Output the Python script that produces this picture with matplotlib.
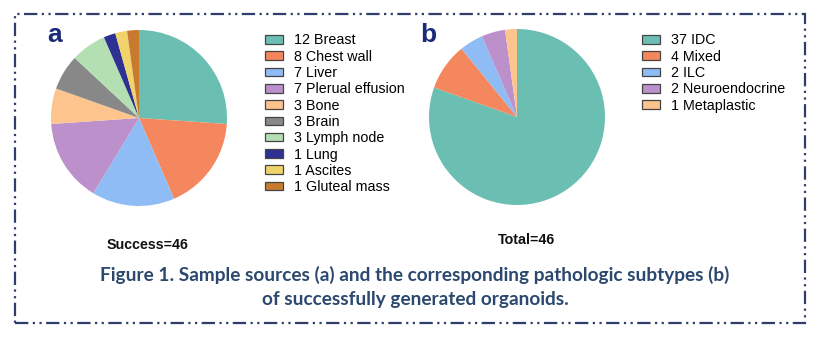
import matplotlib
matplotlib.use("Agg")
import matplotlib.pyplot as plt
from matplotlib.patches import Rectangle, Patch

# Data
src_labels = ["Breast", "Chest wall", "Liver", "Plerual effusion", "Bone", "Brain",
              "Lymph node", "Lung", "Ascites", "Gluteal mass"]
src_values = [12, 8, 7, 7, 3, 3, 3, 1, 1, 1]
src_colors = ["#6bbfb2", "#f4875d", "#8fbcf5", "#bb90cb", "#fdc48d", "#888888",
              "#b4dfb3", "#2e3192", "#f0d36a", "#c87a2e"]

sub_labels = ["IDC", "Mixed", "ILC", "Neuroendocrine", "Metaplastic"]
sub_values = [37, 4, 2, 2, 1]
sub_colors = ["#6bbfb2", "#f4875d", "#8fbcf5", "#bb90cb", "#fdc48d"]

W, H = 835, 340
fig = plt.figure(figsize=(W / 100, H / 100), dpi=100)
fig.patch.set_facecolor("white")

FONT = "Liberation Sans"


def add_pie(cx, cy, r, values, colors, labels, leg_x, leg_y):
    ax = fig.add_axes([(cx - r) / W, 1 - (cy + r) / H, 2 * r / W, 2 * r / H])
    wedges, _ = ax.pie(values, colors=colors, startangle=90, counterclock=False,
                       wedgeprops=dict(linewidth=0))
    ax.set_xlim(-1, 1)
    ax.set_ylim(-1, 1)
    ax.set_aspect("equal")
    ax.axis("off")
    handles = [Patch(facecolor=c, edgecolor="#444444", linewidth=0.9) for c in colors]
    texts = [f"{v} {l}" for v, l in zip(values, labels)]
    fig.legend(handles, texts, loc="upper left",
               bbox_to_anchor=(leg_x / W, 1 - leg_y / H),
               bbox_transform=fig.transFigure, frameon=False,
               prop=dict(family=FONT, size=10.3), handlelength=1.25,
               handleheight=0.55, handletextpad=0.8, labelspacing=0.16,
               borderaxespad=0, borderpad=0)
    return ax


add_pie(139, 118, 88, src_values, src_colors, src_labels, 265, 33.5)
add_pie(517, 117, 88, sub_values, sub_colors, sub_labels, 642, 33.5)

navy = "#1c2b78"
fig.text(47 / W, 1 - 35 / H, "a", fontsize=19, fontweight="bold", color=navy,
         family=FONT, ha="left", va="center")
fig.text(420 / W, 1 - 35 / H, "b", fontsize=19, fontweight="bold", color=navy,
         family=FONT, ha="left", va="center")

fig.text(148 / W, 1 - 245 / H, "Success=46", fontsize=10.3, fontweight="bold",
         color="#111111", family=FONT, ha="center", va="center")
fig.text(526 / W, 1 - 240 / H, "Total=46", fontsize=10.3, fontweight="bold",
         color="#111111", family=FONT, ha="center", va="center")

cap_color = "#2c486e"
fig.text(415 / W, 1 - 275 / H,
         "Figure 1. Sample sources (a) and the corresponding pathologic subtypes (b)",
         fontsize=13.7, fontweight="bold", color=cap_color, family="Lato",
         ha="center", va="center")
fig.text(415 / W, 1 - 300 / H, "of successfully generated organoids.",
         fontsize=13.7, fontweight="bold", color=cap_color, family="Lato",
         ha="center", va="center")

border = Rectangle((15 / W, 1 - 323 / H), (805 - 15) / W, (323 - 14) / H,
                   transform=fig.transFigure, fill=False, edgecolor="#2f3d6b",
                   linewidth=1.6, linestyle=(0, (6, 2, 1, 2, 1, 2)))
fig.patches.append(border)

fig.savefig("out.png", dpi=100, facecolor="white")
